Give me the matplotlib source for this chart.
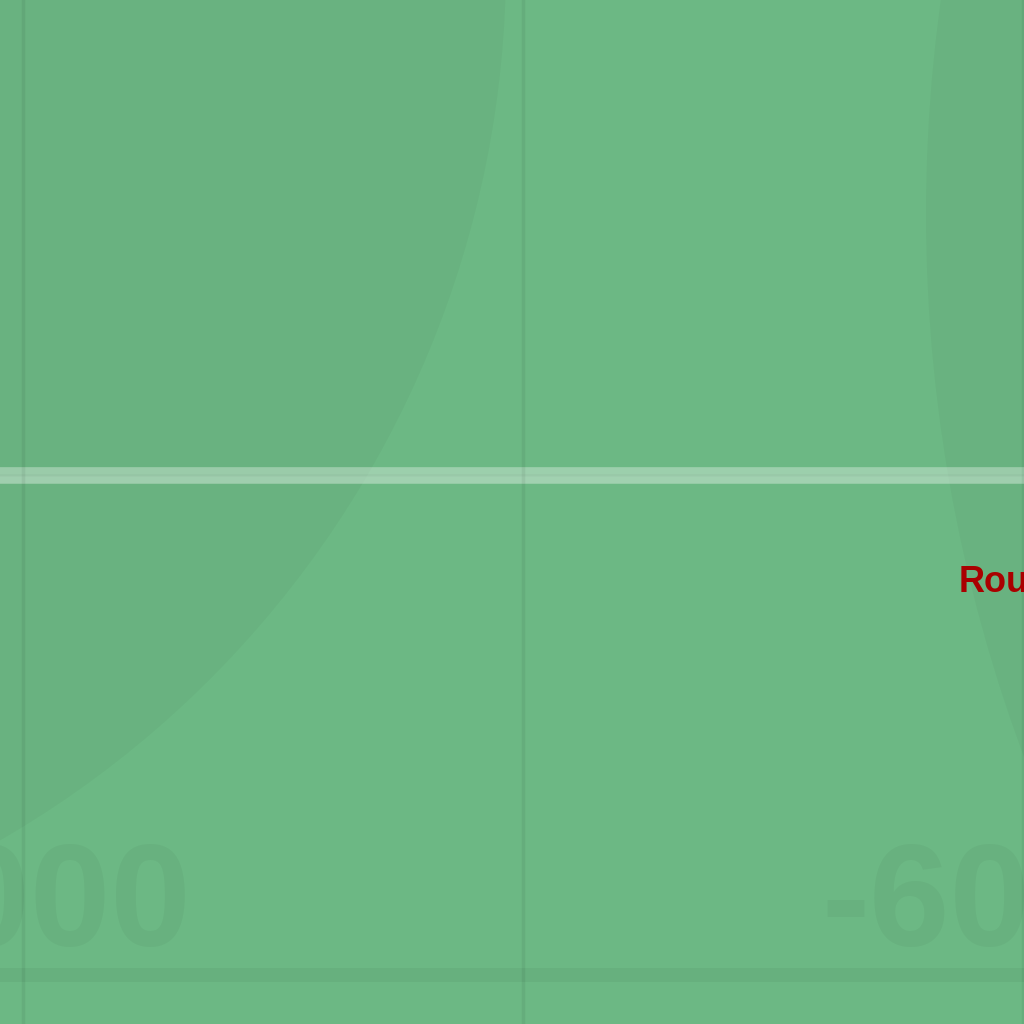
import matplotlib.pyplot as plt
from matplotlib.patches import Circle
import numpy as np

# visible window of the chart (data units)
x_range = [-7023, -5999]
y_range = [1951, 2975]

# grid / ticks
x_grid = [-7000, -6500, -6000]
x_tick_labels = ["-7000", "-6000"]
x_tick_values = [-7000, -6000]
y_grid = [2000, 2500]

# faint zone circles: (x, y, radius)
zone_x = [-7529, -4544]
zone_y = [3011, 2761]
zone_r = [1012, 1553]

# route line
route_y = [2500, 2500]
route_x = [-7100, -5900]

# annotation
note_text = "Route"
note_x = -6064
note_y = 2383

bg = "#6cb884"

fig = plt.figure(figsize=(10.24, 10.24), dpi=100)
fig.patch.set_facecolor(bg)
ax = fig.add_axes([0, 0, 1, 1])
ax.set_facecolor(bg)
ax.set_xlim(x_range)
ax.set_ylim(y_range)
ax.set_aspect("auto")
for s in ax.spines.values():
    s.set_visible(False)
ax.set_xticks([])
ax.set_yticks([])

for cx, cy, r in zip(zone_x, zone_y, zone_r):
    ax.add_patch(Circle((cx, cy), r, facecolor="black", edgecolor="none", alpha=0.028, zorder=1))

# horizontal grid lines
ax.axhline(y_grid[0], color="black", alpha=0.045, lw=10, zorder=2)
ax.axhline(y_grid[1], color="black", alpha=0.045, lw=2, zorder=2)

# route line (semi transparent white)
ax.plot(route_x, route_y, color="white", alpha=0.33, lw=12, solid_capstyle="butt", zorder=3)
ax.plot(route_x, [v - 4 for v in route_y], color="white", alpha=0.06, lw=5, zorder=3)

# vertical grid lines on top
for gx in x_grid:
    ax.axvline(gx, color="black", alpha=0.06, lw=2.5, zorder=4)

# big faint tick labels
for v, lab in zip(x_tick_values, x_tick_labels):
    ax.text(v - 16.5, 2029, lab, ha="center", va="baseline", fontsize=104,
            fontweight="bold", family="Liberation Sans", color="black", alpha=0.035, zorder=5)

ax.text(note_x, note_y, note_text, ha="left", va="baseline", fontsize=26,
        fontweight="bold", family="Liberation Sans", color="#aa0000", zorder=6)

fig.savefig("out.png", dpi=100, facecolor=bg)
